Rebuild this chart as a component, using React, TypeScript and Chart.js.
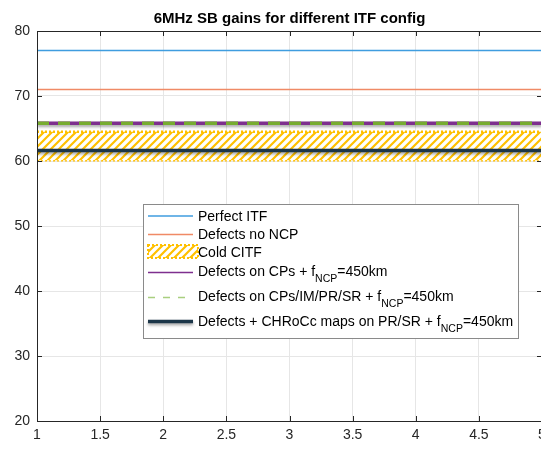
import React, { useEffect, useRef } from "react";
import { Chart, registerables } from "chart.js";

Chart.register(...registerables);

const titleText = "6MHz SB gains for different ITF config";
const xValues = [1, 2, 3, 4, 5];
const xTickLabels = ["1", "1.5", "2", "2.5", "3", "3.5", "4", "4.5", "5"];
const yTickLabels = ["20", "30", "40", "50", "60", "70", "80"];
const perfectITF = [77, 77, 77, 77, 77];
const defectsNoNCP = [71, 71, 71, 71, 71];
const coldCITFTop = [64.5, 64.5, 64.5, 64.5, 64.5];
const coldCITFBottom = [60.1, 60.1, 60.1, 60.1, 60.1];
const defectsCPs = [65.8, 65.8, 65.8, 65.8, 65.8];
const defectsCPsIMPRSR = [65.8, 65.8, 65.8, 65.8, 65.8];
const defectsCHRoCc = [61.6, 61.6, 61.6, 61.6, 61.6];

const FONT = "'Liberation Sans', Arial, Helvetica, sans-serif";
const BLUE = "#3f9ddf";
const ORANGE = "#f08a66";
const YELLOW = "#FFC000";
const PURPLE = "#7E2F8E";
const GREEN = "#77AC30";
const NAVY = "#1c3649";

const toPts = (ys: number[]) => xValues.map((x, i) => ({ x, y: ys[i] }));

function makePattern(): CanvasPattern | string {
  const c = document.createElement("canvas");
  c.width = 8;
  c.height = 8;
  const g = c.getContext("2d");
  if (!g) return YELLOW;
  g.fillStyle = "#ffffff";
  g.fillRect(0, 0, 8, 8);
  g.strokeStyle = YELLOW;
  g.lineWidth = 2.2;
  g.beginPath();
  g.moveTo(-2, 10);
  g.lineTo(10, -2);
  g.moveTo(-6, 6);
  g.lineTo(6, -6);
  g.moveTo(2, 14);
  g.lineTo(14, 2);
  g.stroke();
  const p = g.createPattern(c, "repeat");
  return p || YELLOW;
}

export default function App() {
  const ref = useRef<HTMLCanvasElement | null>(null);
  useEffect(() => {
    if (!ref.current) return;
    const pattern = makePattern();

    const shadowPlugin = {
      id: "shadows",
      beforeDatasetDraw(chart: any, args: any) {
        const ds = chart.data.datasets[args.index];
        if (ds && ds._shadow) {
          const ctx = chart.ctx;
          ctx.save();
          ctx.shadowColor = "rgba(0,0,0,0.35)";
          ctx.shadowBlur = 3;
          ctx.shadowOffsetY = 2;
        }
      },
      afterDatasetDraw(chart: any, args: any) {
        const ds = chart.data.datasets[args.index];
        if (ds && ds._shadow) chart.ctx.restore();
      },
    };

    const decorPlugin = {
      id: "decor",
      afterDraw(chart: any) {
        const ctx = chart.ctx as CanvasRenderingContext2D;
        const a = chart.chartArea;
        const xs = chart.scales.x;
        const ys = chart.scales.y;
        ctx.save();
        // box
        ctx.strokeStyle = "#262626";
        ctx.lineWidth = 1;
        ctx.strokeRect(Math.round(a.left) + 0.5, Math.round(a.top) + 0.5, Math.round(a.right - a.left), Math.round(a.bottom - a.top));
        // inward ticks
        const tl = 5;
        ctx.beginPath();
        xs.ticks.forEach((t: any) => {
          const px = Math.round(xs.getPixelForValue(t.value)) + 0.5;
          ctx.moveTo(px, a.bottom);
          ctx.lineTo(px, a.bottom - tl);
          ctx.moveTo(px, a.top);
          ctx.lineTo(px, a.top + tl);
        });
        ys.ticks.forEach((t: any) => {
          const py = Math.round(ys.getPixelForValue(t.value)) + 0.5;
          ctx.moveTo(a.left, py);
          ctx.lineTo(a.left + tl, py);
          ctx.moveTo(a.right, py);
          ctx.lineTo(a.right - tl, py);
        });
        ctx.stroke();

        // title
        ctx.fillStyle = "#000";
        ctx.font = `bold 15px ${FONT}`;
        ctx.textAlign = "center";
        ctx.textBaseline = "middle";
        ctx.fillText(titleText, (a.left + a.right) / 2, 19);

        // legend
        const bx = 143.5, by = 204.5, bw = 375, bh = 134;
        ctx.fillStyle = "#ffffff";
        ctx.fillRect(bx, by, bw, bh);
        ctx.strokeStyle = "#8a8a8a";
        ctx.lineWidth = 1;
        ctx.strokeRect(bx, by, bw, bh);

        const sx0 = 148, sx1 = 193, tx = 198;
        const mainFont = `14px ${FONT}`;
        const subFont = `10.5px ${FONT}`;
        const drawText = (parts: [string, boolean][], y: number) => {
          let x = tx;
          ctx.textAlign = "left";
          ctx.textBaseline = "alphabetic";
          ctx.fillStyle = "#000";
          parts.forEach(([s, sub]) => {
            ctx.font = sub ? subFont : mainFont;
            ctx.fillText(s, x, y + 5 + (sub ? 6 : 0));
            x += ctx.measureText(s).width;
          });
        };
        const line = (y: number, color: string, w: number, dash: number[] = []) => {
          ctx.beginPath();
          ctx.setLineDash(dash);
          ctx.strokeStyle = color;
          ctx.lineWidth = w;
          ctx.moveTo(sx0, y);
          ctx.lineTo(sx1, y);
          ctx.stroke();
          ctx.setLineDash([]);
        };
        // rows
        line(216, BLUE, 1.5);
        drawText([["Perfect ITF", false]], 215.5);
        line(234.5, ORANGE, 1.5);
        drawText([["Defects no NCP", false]], 234);
        // Cold CITF sample
        ctx.fillStyle = pattern as any;
        ctx.fillRect(148, 245, 50, 13);
        ctx.setLineDash([2, 2]);
        ctx.strokeStyle = YELLOW;
        ctx.lineWidth = 2;
        ctx.strokeRect(148, 245, 50, 13);
        ctx.setLineDash([]);
        drawText([["Cold CITF", false]], 252);
        line(272.5, PURPLE, 1.5);
        drawText([["Defects on CPs + f", false], ["NCP", true], ["=450km", false]], 271);
        line(297.5, "#a9cf7f", 1.5, [7, 8]);
        drawText([["Defects on CPs/IM/PR/SR + f", false], ["NCP", true], ["=450km", false]], 295.5);
        ctx.save();
        ctx.shadowColor = "rgba(0,0,0,0.35)";
        ctx.shadowBlur = 3;
        ctx.shadowOffsetY = 2;
        line(321.5, NAVY, 3.5);
        ctx.restore();
        drawText([["Defects + CHRoCc maps on PR/SR + f", false], ["NCP", true], ["=450km", false]], 321);
        ctx.restore();
      },
    };

    const chart = new Chart(ref.current, {
      type: "line",
      data: {
        datasets: [
          { label: "Perfect ITF", data: toPts(perfectITF), borderColor: BLUE, borderWidth: 1.5, pointRadius: 0, fill: false, order: 6 },
          { label: "Defects no NCP", data: toPts(defectsNoNCP), borderColor: ORANGE, borderWidth: 1.5, pointRadius: 0, fill: false, order: 5 },
          { label: "Cold CITF", data: toPts(coldCITFTop), borderColor: YELLOW, borderWidth: 2.5, borderDash: [2, 2], pointRadius: 0, fill: "+1", backgroundColor: pattern as any, order: 4 },
          { label: "Cold CITF bottom", data: toPts(coldCITFBottom), borderColor: YELLOW, borderWidth: 2.5, borderDash: [2, 2], pointRadius: 0, fill: false, order: 4 },
          { label: "Defects on CPs", data: toPts(defectsCPs), borderColor: PURPLE, borderWidth: 3.5, pointRadius: 0, fill: false, order: 3, _shadow: true } as any,
          { label: "Defects on CPs/IM/PR/SR", data: toPts(defectsCPsIMPRSR), borderColor: GREEN, borderWidth: 3.5, borderDash: [12, 9], pointRadius: 0, fill: false, order: 2 },
          { label: "Defects + CHRoCc", data: toPts(defectsCHRoCc), borderColor: NAVY, borderWidth: 3.5, pointRadius: 0, fill: false, order: 1, _shadow: true } as any,
        ],
      },
      options: {
        animation: false,
        responsive: false,
        devicePixelRatio: 1,
        layout: { padding: { top: 31, right: 28, left: 0, bottom: 0 } },
        plugins: { legend: { display: false }, title: { display: false }, tooltip: { enabled: false } },
        scales: {
          x: {
            type: "linear",
            min: 1,
            max: 5,
            ticks: {
              stepSize: 0.5,
              padding: 6,
              color: "#262626",
              font: { family: FONT, size: 14 },
              maxRotation: 0,
              autoSkip: false,
              callback: (_v: any, i: number) => xTickLabels[i],
            },
            grid: { color: "#e6e6e6", drawTicks: false },
            border: { display: false },
            afterFit: (s: any) => { s.height = 31; },
          },
          y: {
            min: 20,
            max: 80,
            ticks: {
              stepSize: 10,
              padding: 7,
              color: "#262626",
              font: { family: FONT, size: 14 },
              callback: (_v: any, i: number) => yTickLabels[i],
            },
            grid: { color: "#e6e6e6", drawTicks: false },
            border: { display: false },
            afterFit: (s: any) => { s.width = 37; },
          },
        },
      },
      plugins: [shadowPlugin, decorPlugin],
    });
    return () => chart.destroy();
  }, []);

  return (
    <div style={{ position: "fixed", left: 0, top: 0, width: 541, height: 452, overflow: "hidden", background: "#fff" }}>
      <canvas ref={ref} width={570} height={452} style={{ display: "block" }} />
    </div>
  );
}
